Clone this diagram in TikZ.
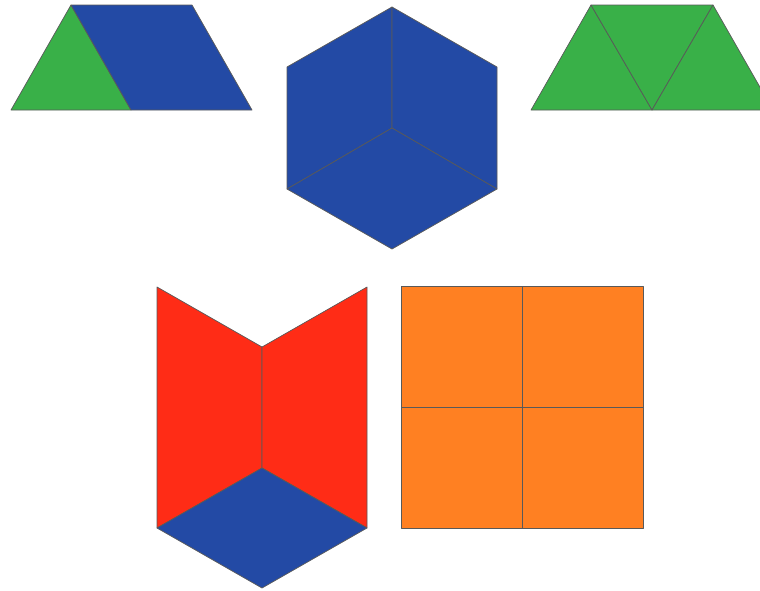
\documentclass[tikz,border=0pt]{standalone}
\begin{document}
\begin{tikzpicture}[x=1pt,y=-1pt,
  edge/.style={draw=black!65,line width=0.7pt,line join=round},
  bluef/.style={edge,fill=pbblue},
  greenf/.style={edge,fill=pbgreen},
  redf/.style={edge,fill=pbred},
  orangef/.style={edge,fill=pborange}]
\definecolor{pbblue}{RGB}{35,74,165}
\definecolor{pbgreen}{RGB}{57,176,72}
\definecolor{pbred}{RGB}{255,44,22}
\definecolor{pborange}{RGB}{255,128,34}
\useasboundingbox (0,0) rectangle (760,590);
\clip (0,0) rectangle (760,590);
% left trapezoid: triangle + rhombus
\fill[white] (0,0) rectangle (760,590);
\path[greenf] (11,110) -- (71,5) -- (131,110) -- cycle;
\path[bluef] (71,5) -- (192,5) -- (252,110) -- (131,110) -- cycle;
% hexagon of three rhombi
\coordinate (hc) at (392,128);
\path[bluef] (hc) -- (392,7) -- (287,67) -- (287,189) -- cycle;
\path[bluef] (hc) -- (392,7) -- (497,67) -- (497,189) -- cycle;
\path[bluef] (hc) -- (287,189) -- (392,249) -- (497,189) -- cycle;
% right trapezoid: three triangles
\path[greenf] (531,110) -- (591,5) -- (652,110) -- cycle;
\path[greenf] (591,5) -- (713,5) -- (652,110) -- cycle;
\path[greenf] (652,110) -- (713,5) -- (773,110) -- cycle;
% red/blue chevron shape
\path[redf] (157,287) -- (262,347) -- (262,468) -- (157,528) -- cycle;
\path[redf] (367,287) -- (262,347) -- (262,468) -- (367,528) -- cycle;
\path[bluef] (262,468) -- (157,528) -- (262,588) -- (367,528) -- cycle;
% orange squares
\path[orangef] (401,286) rectangle (522,407);
\path[orangef] (522,286) rectangle (643,407);
\path[orangef] (401,407) rectangle (522,528);
\path[orangef] (522,407) rectangle (643,528);
\end{tikzpicture}
\end{document}
